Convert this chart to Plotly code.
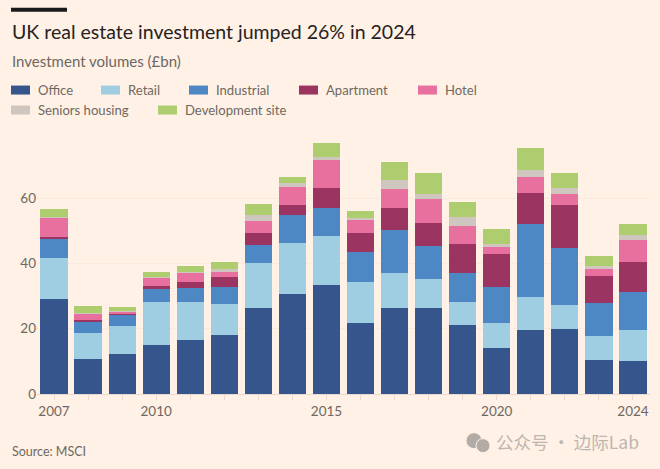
import plotly.graph_objects as go

years = list(range(2007, 2025))
office = [29.0, 10.7, 12.4, 15.0, 16.4, 18.2, 26.3, 30.5, 33.4, 21.7, 26.3, 26.3, 21.2, 14.2, 19.6, 19.9, 10.3, 10.0]
retail = [12.65, 8.0, 8.4, 13.2, 11.9, 9.5, 13.7, 15.9, 15.1, 12.6, 10.9, 8.9, 7.1, 7.7, 10.2, 7.4, 7.4, 9.6]
industrial = [5.8, 3.6, 3.7, 4.1, 4.2, 5.0, 5.6, 8.5, 8.6, 9.1, 13.0, 10.1, 8.8, 10.8, 22.4, 17.3, 10.2, 11.7]
apartment = [0.7, 0.4, 0.3, 0.7, 1.9, 3.2, 3.8, 2.9, 5.9, 5.9, 6.9, 7.2, 8.8, 10.2, 9.5, 13.4, 8.3, 9.2]
hotel = [6.0, 1.9, 0.5, 2.65, 2.9, 1.5, 3.5, 5.6, 8.8, 3.9, 5.6, 7.3, 5.5, 2.3, 4.7, 3.3, 2.2, 6.7]
seniors = [0.2, 0.2, 0.1, 0.1, 0.2, 0.9, 2.0, 1.4, 0.8, 0.7, 2.9, 1.5, 2.7, 0.7, 2.2, 1.8, 0.9, 1.5]
development = [2.3, 2.1, 1.3, 1.5, 1.7, 2.1, 3.3, 1.8, 4.3, 2.2, 5.4, 6.4, 4.8, 4.7, 6.9, 4.5, 3.0, 3.4]

series_names = ["Office", "Retail", "Industrial", "Apartment", "Hotel", "Seniors housing", "Development site"]
series_values = [office, retail, industrial, apartment, hotel, seniors, development]
series_colors = ["#35558C", "#9FCEE3", "#4D87C4", "#9B3460", "#E8709F", "#CFC7BF", "#AECD6E"]
x_ticks = [2007, 2010, 2015, 2020, 2024]
y_ticks = [0, 20, 40, 60]

W, H = 660, 469
BG = "#FFF1E5"
FONT = "Lato"
MUTED = "#6E6862"
L, R, T, B = 37, 650, 135, 394.3


def px(x):
    return (x - L) / (R - L)


def py(y):
    return (B - y) / (B - T)


fig = go.Figure()
for name, vals, col in zip(series_names, series_values, series_colors):
    fig.add_trace(go.Bar(x=years, y=vals, name=name, marker=dict(color=col, line_width=0), showlegend=False))

shapes = [dict(type="rect", xref="paper", yref="paper", x0=px(11), x1=px(67), y0=py(11.5), y1=py(7.5),
               fillcolor="#1a1a1a", line_width=0)]
annotations = []


def text(x, y, s, size, color, anchor="left"):
    annotations.append(dict(xref="paper", yref="paper", x=px(x), y=py(y), text=s, showarrow=False,
                            xanchor=anchor, yanchor="middle", borderpad=0, align="left",
                            font=dict(family=FONT, size=size, color=color)))


text(11, 31, "UK real estate investment jumped 26% in 2024", 19.5, "#26221F")
text(11, 61, "Investment volumes (£bn)", 15, MUTED)

legend_x = [11, 101, 189, 299, 418, 11, 158]
legend_y = [90, 90, 90, 90, 90, 110, 110]
for name, col, lx, ly in zip(series_names, series_colors, legend_x, legend_y):
    shapes.append(dict(type="rect", xref="paper", yref="paper", x0=px(lx), x1=px(lx + 19),
                       y0=py(ly + 4.5), y1=py(ly - 4.5), fillcolor=col, line_width=0))
    text(lx + 26, ly, name, 13.1, MUTED)

text(11, 452, "Source: MSCI", 12.5, MUTED)

# watermark
for cx, cy, r in [(474, 441, 8), (483, 446, 7)]:
    shapes.append(dict(type="circle", xref="paper", yref="paper", x0=px(cx - r), x1=px(cx + r),
                       y0=py(cy + r), y1=py(cy - r), fillcolor="#B3ACA6", line=dict(color=BG, width=1)))
annotations.append(dict(xref="paper", yref="paper", x=px(495), y=py(442), text="公众号 · 边际Lab", showarrow=False,
                        xanchor="left", yanchor="middle", borderpad=0,
                        font=dict(family="Noto Sans CJK SC", size=17.5, color="#BDB6AF")))

fig.update_layout(
    width=W, height=H, autosize=False, barmode="stack", bargap=0.2,
    paper_bgcolor=BG, plot_bgcolor=BG,
    margin=dict(l=L, r=W - R, t=T, b=H - B, pad=0),
    font=dict(family=FONT, color=MUTED),
    shapes=shapes, annotations=annotations,
    xaxis=dict(range=[2006.5, 2024.5], tickmode="array", tickvals=x_ticks, ticktext=[str(v) for v in x_ticks],
               ticks="outside", ticklen=5, tickcolor="#E8DBCE", tickwidth=1, showgrid=False, zeroline=False,
               showline=True, linecolor="#E8DBCE", linewidth=1,
               tickfont=dict(family=FONT, size=13.5, color=MUTED),
               minor=dict(ticks="outside", dtick=1, tick0=2007, ticklen=5, tickcolor="#E8DBCE", showgrid=False)),
    yaxis=dict(range=[0, (B - T) / 3.267], tickmode="array", tickvals=y_ticks, ticks="", showgrid=True,
               gridcolor="#FBEADC", gridwidth=1, zeroline=False, showline=False,
               tickfont=dict(family=FONT, size=13.5, color=MUTED)),
)

fig.write_html("out.html", config=dict(displayModeBar=False),
               post_script="document.body.style.margin='0';document.body.style.overflow='hidden';"
                           "document.body.style.background='#FFF1E5';")
